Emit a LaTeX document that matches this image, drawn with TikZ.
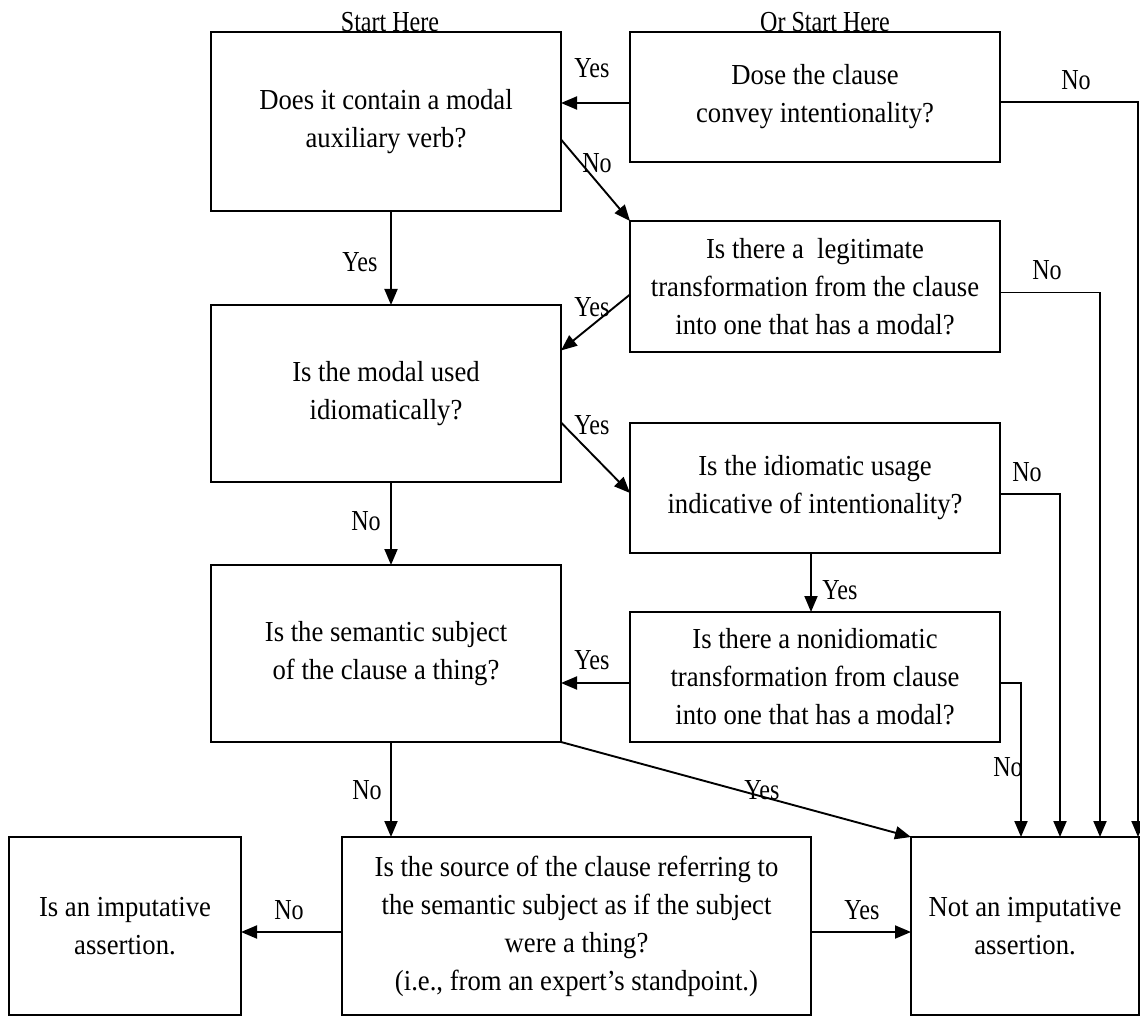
\documentclass[tikz,border=0pt]{standalone}
\usepackage{fontspec}
\setmainfont{Liberation Serif}[FakeStretch=0.92]
\newfontfamily\lblfont{Liberation Serif}[FakeStretch=0.83]
\usetikzlibrary{arrows.meta}

\begin{document}
\begin{tikzpicture}[x=1pt,y=-1pt,line width=1.9pt,
                    box/.style={draw,align=center,inner sep=0pt,outer sep=0pt,font=\fontsize{29}{38}\selectfont},
                    lbl/.style={font=\lblfont\fontsize{29}{34}\selectfont,inner sep=0pt},
                    arr/.style={-{Triangle[length=16pt,width=13pt]}}]

  \useasboundingbox (0,0) rectangle (1140,1016);

  \node[box,minimum width=350pt,minimum height=179pt] (a) at (386,121.5) {Does it contain a modal\\auxiliary verb?};
  \node[box,minimum width=370pt,minimum height=130pt] (b) at (815,97) {Dose the clause\\convey intentionality?};
  \node[box,minimum width=370pt,minimum height=131pt] (d) at (815,286.5) {Is there a \ legitimate\\transformation from the clause\\into one that has a modal?};
  \node[box,minimum width=350pt,minimum height=177pt] (c) at (386,393.5) {Is the modal used\\idiomatically?};
  \node[box,minimum width=370pt,minimum height=130pt] (e) at (815,488) {Is the idiomatic usage\\indicative of intentionality?};
  \node[box,minimum width=370pt,minimum height=130pt] (f) at (815,677) {Is there a nonidiomatic\\transformation from clause\\into one that has a modal?};
  \node[box,minimum width=350pt,minimum height=177pt] (g) at (386,653.5) {Is the semantic subject\\of the clause a thing?};
  \node[box,minimum width=232pt,minimum height=178pt] (j) at (125,926) {Is an imputative\\assertion.};
  \node[box,minimum width=469pt,minimum height=178pt] (i) at (576.5,926) {Is the source of the clause referring to\\the semantic subject as if the subject\\were a thing?\\(i.e., from an expert's standpoint.)};
  \node[box,minimum width=228pt,minimum height=178pt] (h) at (1025,926) {Not an imputative\\assertion.};

  \node[lbl] (s1) at (390,22) {Start Here};
  \node[lbl] (s2) at (825,22) {Or Start Here};

  \path[arr]
    ([yshift=-6pt]b.west) edge ([yshift=-6pt]b.west -| a.east)
    ([xshift=5pt]a.south) edge ([xshift=5pt]c.north)
    ([yshift=-18pt]a.east) edge (d.north west)
    ([yshift=-8pt]d.west) edge ([yshift=43pt]c.east)
    ([yshift=-29pt]c.east) edge ([yshift=-5pt]e.west)
    ([xshift=5pt]c.south) edge ([xshift=5pt]g.north)
    ([xshift=-4pt]e.south) edge ([xshift=-4pt]f.north)
    ([yshift=-6pt]f.west) edge ([yshift=-6pt]f.west -| g.east)
    ([xshift=5pt]g.south) edge ([xshift=5pt]g.south |- i.north)
    (g.south east) edge (h.north west)
    ([yshift=-6pt]i.west) edge ([yshift=-6pt]i.west -| j.east)
    ([yshift=-6pt]i.east) edge ([yshift=-6pt]i.east -| h.west);

  \draw[arr] ([yshift=-5pt]b.east) -| ([xshift=113pt]h.north);
  \draw[arr] ([yshift=-6pt]d.east) -| ([xshift=75pt]h.north);
  \draw[arr] ([yshift=-6pt]e.east) -| ([xshift=35pt]h.north);
  \draw[arr] ([yshift=-6pt]f.east) -| ([xshift=-4pt]h.north);

  \node[lbl] (y1) at (592,68) {Yes};
  \node[lbl] (n1) at (1076,80) {No};
  \node[lbl] (y2) at (360,262) {Yes};
  \node[lbl] (n2) at (597,163) {No};
  \node[lbl] (n3) at (1047,270) {No};
  \node[lbl] (y3) at (592,307) {Yes};
  \node[lbl] (y4) at (592,425) {Yes};
  \node[lbl] (n4) at (1027,472) {No};
  \node[lbl] (y5) at (840,590) {Yes};
  \node[lbl] (n5) at (366,521) {No};
  \node[lbl] (y6) at (592,660) {Yes};
  \node[lbl] (n6) at (1008,767) {No};
  \node[lbl] (y7) at (762,790) {Yes};
  \node[lbl] (n7) at (367,790) {No};
  \node[lbl] (n8) at (289,910) {No};
  \node[lbl] (y8) at (862,910) {Yes};
\end{tikzpicture}
\end{document}
